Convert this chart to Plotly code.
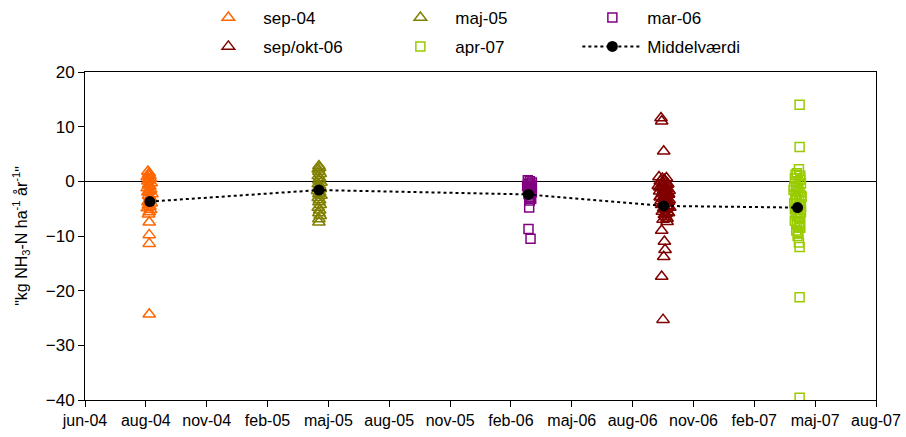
import plotly.graph_objects as go

# ---------------- data ----------------
tick_dates = ["2004-06-01", "2004-08-30", "2004-11-28", "2005-02-26", "2005-05-27",
              "2005-08-25", "2005-11-23", "2006-02-21", "2006-05-22", "2006-08-20",
              "2006-11-18", "2007-02-16", "2007-05-17", "2007-08-15"]
tick_labels = ["jun-04", "aug-04", "nov-04", "feb-05", "maj-05", "aug-05", "nov-05",
               "feb-06", "maj-06", "aug-06", "nov-06", "feb-07", "maj-07", "aug-07"]

sep04_x = ["2004-09-02", "2004-09-04", "2004-09-03", "2004-09-05", "2004-09-01",
           "2004-09-06", "2004-09-04", "2004-09-02", "2004-09-07", "2004-09-03",
           "2004-09-05", "2004-09-01", "2004-09-06", "2004-09-04", "2004-09-02",
           "2004-09-08", "2004-09-03", "2004-09-05", "2004-09-06", "2004-09-04",
           "2004-09-02", "2004-09-07", "2004-09-03", "2004-09-05", "2004-09-01",
           "2004-09-06", "2004-09-04", "2004-09-03", "2004-09-04", "2004-09-04",
           "2004-09-04", "2004-09-04"]
sep04_y = [1.8, 1.5, 1.2, 1.0, 0.8, 0.5, 0.3, 0.0, -0.3, -0.6, -0.9, -1.2, -1.5, -1.8,
           -2.0, -2.3, -2.6, -2.9, -3.2, -3.5, -3.8, -4.0, -4.3, -4.6, -4.9, -5.2, -5.6,
           -6.0, -7.5, -9.8, -11.4, -24.3]

maj05_x = ["2005-05-13", "2005-05-14", "2005-05-12", "2005-05-13", "2005-05-15",
           "2005-05-12", "2005-05-14", "2005-05-13", "2005-05-16", "2005-05-12",
           "2005-05-14", "2005-05-13", "2005-05-15", "2005-05-11", "2005-05-14",
           "2005-05-13", "2005-05-16", "2005-05-12", "2005-05-14", "2005-05-13",
           "2005-05-15", "2005-05-12", "2005-05-14", "2005-05-13", "2005-05-15",
           "2005-05-13", "2005-05-13"]
maj05_y = [2.8, 2.5, 2.2, 1.8, 1.4, 1.0, 0.6, 0.2, -0.2, -0.5, -0.8, -1.1, -1.4, -1.7,
           -2.0, -2.3, -2.6, -3.0, -3.4, -3.8, -4.3, -4.8, -5.3, -5.8, -6.3, -6.9, -7.5]

mar06_x = ["2006-03-18", "2006-03-21", "2006-03-24", "2006-03-19", "2006-03-22",
           "2006-03-17", "2006-03-20", "2006-03-23", "2006-03-18", "2006-03-21",
           "2006-03-24", "2006-03-19", "2006-03-22", "2006-03-20", "2006-03-23",
           "2006-03-21", "2006-03-20", "2006-03-19", "2006-03-22"]
mar06_y = [0.2, 0.0, -0.2, -0.4, -0.6, -0.8, -1.0, -1.2, -1.5, -1.8, -2.0, -2.3, -2.6,
           -2.9, -3.2, -3.5, -4.8, -8.7, -10.5]

sepokt06_x = ["2006-10-01", "2006-10-02", "2006-10-05", "2006-09-28", "2006-10-03",
              "2006-10-06", "2006-09-30", "2006-10-08", "2006-10-04", "2006-10-10",
              "2006-09-27", "2006-10-07", "2006-10-02", "2006-10-11", "2006-10-05",
              "2006-09-29", "2006-10-09", "2006-10-03", "2006-10-12", "2006-10-06",
              "2006-09-30", "2006-10-08", "2006-10-04", "2006-10-13", "2006-10-01",
              "2006-10-10", "2006-10-07", "2006-10-02", "2006-10-11", "2006-10-05",
              "2006-10-09", "2006-10-03", "2006-10-12", "2006-10-06", "2006-10-08",
              "2006-10-04", "2006-10-10", "2006-10-02", "2006-10-06", "2006-10-07",
              "2006-10-05", "2006-10-02", "2006-10-04",
              "2006-10-09", "2006-10-06", "2006-10-11", "2006-10-03", "2006-10-08",
              "2006-10-13", "2006-10-05", "2006-10-10", "2006-09-30", "2006-10-07",
              "2006-10-12", "2006-10-04", "2006-10-09", "2006-10-14", "2006-10-06",
              "2006-10-11", "2006-10-08", "2006-10-10", "2006-09-29", "2006-10-12"]
sepokt06_y = [11.6, 11.0, 5.5, 0.8, 0.5, 0.3, 0.0, -0.2, -0.4, -0.6, -0.8, -1.0, -1.2,
              -1.4, -1.6, -1.8, -2.0, -2.2, -2.4, -2.6, -2.8, -3.0, -3.2, -3.4, -3.6,
              -3.8, -4.0, -4.3, -4.6, -4.9, -5.2, -5.5, -5.8, -6.1, -6.5, -7.0, -7.4,
              -9.0, -11.0, -12.5, -13.8, -17.4, -25.3,
              0.6, 0.2, -0.5, -0.9, -1.3, -1.7, -2.1, -2.5, -2.9, -3.3, -3.7, -4.1,
              -4.5, -4.8, -5.1, -5.6, -6.0, -6.8, -1.1, -2.3]

apr07_x = ["2007-04-24", "2007-04-24", "2007-04-23", "2007-04-20", "2007-04-25",
           "2007-04-17", "2007-04-22", "2007-04-26", "2007-04-19", "2007-04-21",
           "2007-04-15", "2007-04-24", "2007-04-18", "2007-04-27", "2007-04-20",
           "2007-04-23", "2007-04-16", "2007-04-25", "2007-04-19", "2007-04-22",
           "2007-04-26", "2007-04-18", "2007-04-21", "2007-04-24", "2007-04-17",
           "2007-04-23", "2007-04-20", "2007-04-25", "2007-04-19", "2007-04-22",
           "2007-04-21", "2007-04-23", "2007-04-24", "2007-04-24", "2007-04-24",
           "2007-04-18", "2007-04-25", "2007-04-16", "2007-04-22", "2007-04-26",
           "2007-04-19", "2007-04-23", "2007-04-17", "2007-04-21", "2007-04-25",
           "2007-04-20", "2007-04-24", "2007-04-22", "2007-04-18", "2007-04-26"]
apr07_y = [14.0, 6.3, 2.2, 1.5, 1.0, 0.5, 0.0, -0.4, -0.8, -1.2, -1.6, -2.0, -2.4, -2.8,
           -3.2, -3.6, -4.0, -4.4, -4.8, -5.2, -5.6, -6.0, -6.4, -6.8, -7.2, -7.6, -8.0,
           -8.5, -9.0, -9.5, -10.0, -11.2, -12.0, -21.2, -39.6,
           1.2, 0.3, -1.0, -1.8, -2.6, -3.4, -4.2, -5.0, -5.8, -6.6, -7.4, -8.2, -9.2,
           -3.0, -4.6]

mean_x = ["2004-09-05", "2005-05-13", "2006-03-19", "2006-10-05", "2007-04-21"]
mean_y = [-3.7, -1.6, -2.4, -4.5, -4.8]

# ---------------- figure ----------------
FONT = "Liberation Sans, Arial, sans-serif"

def scatter(x, y, name, symbol, color, size, legend):
    return go.Scatter(x=x, y=y, name=name, mode="markers", legend=legend,
                      marker=dict(symbol=symbol, size=size, color=color,
                                  line=dict(color=color, width=1.5)))

fig = go.Figure()
fig.add_trace(scatter(sep04_x, sep04_y, "sep-04", "triangle-up-open", "#FF6600", 11, "legend"))
fig.add_trace(scatter(maj05_x, maj05_y, "maj-05", "triangle-up-open", "#808000", 11, "legend"))
fig.add_trace(scatter(mar06_x, mar06_y, "mar-06", "square-open", "#800080", 9, "legend"))
fig.add_trace(scatter(sepokt06_x, sepokt06_y, "sep/okt-06", "triangle-up-open", "#800000", 11, "legend2"))
fig.add_trace(scatter(apr07_x, apr07_y, "apr-07", "square-open", "#99CC00", 9, "legend2"))
fig.add_trace(go.Scatter(x=mean_x, y=mean_y, name="Middelværdi", mode="lines+markers",
                         legend="legend2",
                         line=dict(color="black", width=2, dash="dot"),
                         marker=dict(symbol="circle", size=11, color="black")))

legend_common = dict(orientation="h", x=0.137, xanchor="left",
                     yref="container", yanchor="top",
                     font=dict(family=FONT, size=17, color="black"),
                     entrywidth=117, entrywidthmode="pixels", itemwidth=60,
                     bgcolor="rgba(0,0,0,0)")

fig.update_layout(
    width=906, height=437,
    margin=dict(l=85, r=30, t=72, b=37, autoexpand=False),
    paper_bgcolor="white", plot_bgcolor="white",
    font=dict(family=FONT, color="black", size=15),
    showlegend=True,
    legend=dict(legend_common, y=1.0),
    legend2=dict(legend_common, y=0.934),
)
fig.update_xaxes(type="date", range=[tick_dates[0], tick_dates[-1]],
                 tickmode="array", tickvals=tick_dates, ticktext=tick_labels,
                 showgrid=False, zeroline=False,
                 showline=True, linecolor="black", linewidth=1, mirror=True,
                 ticks="outside", ticklen=6, tickcolor="black",
                 tickfont=dict(family=FONT, size=16, color="black"))
fig.update_yaxes(range=[-40, 20], tickmode="linear", tick0=-40, dtick=10,
                 showgrid=False, zeroline=True, zerolinecolor="black", zerolinewidth=1,
                 showline=True, linecolor="black", linewidth=1, mirror=True,
                 ticks="outside", ticklen=6, tickcolor="black",
                 tickfont=dict(family=FONT, size=17, color="black"),
                 title=dict(text='"kg NH<sub>3</sub>-N ha<sup>-1</sup> år<sup>-1</sup>"',
                            font=dict(family=FONT, size=16, color="black"), standoff=14))

fig.write_html("out.html")
